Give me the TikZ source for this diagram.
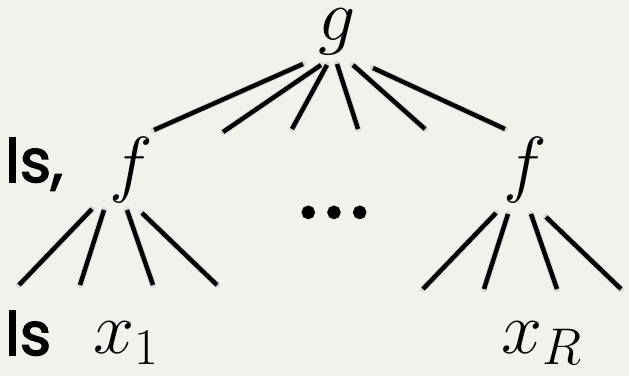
\RequirePackage{fix-cm}
\documentclass[tikz,border=0pt]{standalone}
\usepackage[no-math]{fontspec}
\newfontfamily\lblfont[FakeBold=2.5]{Poppins}
\usetikzlibrary{positioning}
\definecolor{paper}{HTML}{F2F1EC}

\begin{document}
\begin{tikzpicture}[
    x=1bp, y=-1bp,
    term/.style={inner sep=0pt, anchor=base, font=\fontsize{74}{80}\selectfont},
    side/.style={inner sep=0pt, anchor=base west, font=\lblfont\fontsize{60}{70}\selectfont},
    spoke/.style={line width=4.5bp, line cap=butt},
    halo/.style={line width=6.5bp, line cap=round, draw=black!14, shift={(1.5,2.5)}}
]
\fill[paper] (0,0) rectangle (629,376);
\useasboundingbox (0,0) rectangle (629,376);

% root and the two inner terms
\node[term] (g) at (337,40) {$g$};
\node[term] (fL) at (131,188) {$f$};
\node[term] (fR) at (525,188) {$f$};

% leaves
\node[term] (x1) at (126,353) {$x_1$};
\node[term] (xR) at (542,353) {$x_R$};

% gap between the inner terms
\node[inner sep=0pt, anchor=base, font=\lblfont\fontsize{92}{96}\selectfont] (gap) at (334,217.5) {.\kern6.5pt.\kern6.5pt.};

% side labels
\node[side] (inner) at (5,182) {ls,};
\node[side] (leaf) at (5,355) {ls};

% spokes under g
\foreach \sx/\sy/\dx/\dy in {-34/24/-149/66, -16/25/-98/67, -10/25/-35/64,
                             0/24/21/65, 16/25/72/64, 36/28/132/61}{
  \draw[halo] (g.base) ++(\sx,\sy) -- ++(\dx,\dy);
  \draw[spoke] (g.base) ++(\sx,\sy) -- ++(\dx,\dy);
}

% spokes under each f
\foreach \n/\ox/\oy in {fL/0/0, fR/10/4}{
  \foreach \sx/\sy/\dx/\dy in {-39/21/-73/76, -27/22/-24/75, -4/22/26/75, 11/25/75/72}{
    \draw[halo] (\n.base) ++(\sx+\ox,\sy+\oy) -- ++(\dx,\dy);
    \draw[spoke] (\n.base) ++(\sx+\ox,\sy+\oy) -- ++(\dx,\dy);
  }
}

\end{tikzpicture}
\end{document}
